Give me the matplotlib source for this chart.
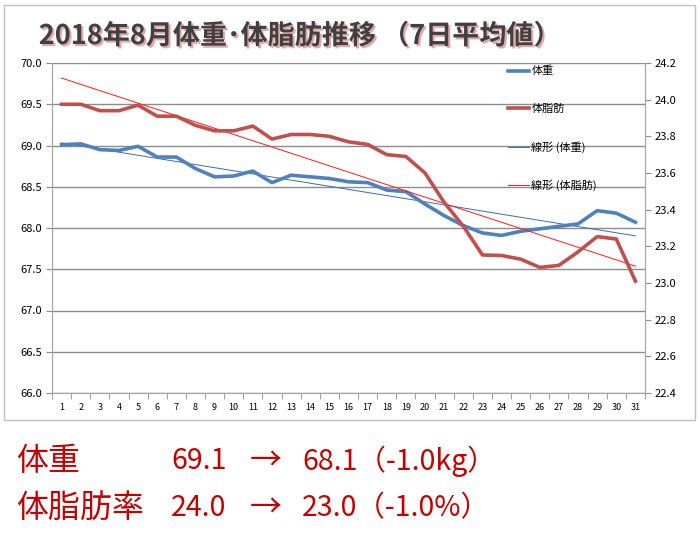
import numpy as np
import matplotlib
matplotlib.use("Agg")
import matplotlib.pyplot as plt
import matplotlib.patheffects as pe
from matplotlib.patches import Rectangle
from matplotlib.ticker import FixedLocator, NullFormatter

plt.rcParams['font.family'] = ['Noto Sans CJK JP', 'DejaVu Sans']

# 7-day averages, August 2018
days = list(range(1, 32))
weight = [69.01, 69.02, 68.95, 68.94, 68.99, 68.86, 68.86, 68.72, 68.62, 68.63,
          68.69, 68.55, 68.64, 68.62, 68.60, 68.56, 68.55, 68.46, 68.44, 68.29,
          68.15, 68.03, 67.94, 67.91, 67.96, 67.99, 68.02, 68.05, 68.21, 68.18,
          68.07]
fat = [23.975, 23.975, 23.94, 23.94, 23.97, 23.91, 23.91, 23.86, 23.83, 23.83,
       23.856, 23.785, 23.81, 23.81, 23.80, 23.77, 23.756, 23.70, 23.69, 23.60,
       23.44, 23.31, 23.153, 23.15, 23.13, 23.085, 23.096, 23.17, 23.253, 23.24,
       23.01]

# summary rows below the chart
summary_labels = ['体重', '体脂肪率']
summary_start = ['69.1', '24.0']
summary_end = ['68.1（-1.0kg）', '23.0（-1.0%）']

x = np.array(days)
w_fit = np.polyval(np.polyfit(x, weight, 1), x)
f_fit = np.polyval(np.polyfit(x, fat, 1), x)

blue = '#4F81BD'
red = '#C0504D'
grid_c = '#8c8c8c'

fig = plt.figure(figsize=(7, 5.33), dpi=100)
fig.patches.append(Rectangle((4 / 700, 1 - 420 / 533), 691 / 700, 415 / 533,
                             transform=fig.transFigure, fill=False,
                             edgecolor='#bfbfbf', linewidth=1))

ax = fig.add_axes([52 / 700, 1 - 393 / 533, 593 / 700, 330 / 533])
ax2 = ax.twinx()

ax.set_xlim(0.5, 31.5)
ax.set_ylim(66.0, 70.0)
ax.set_yticks(np.arange(66.0, 70.01, 0.5))
ax.set_yticklabels([f'{v:.1f}' for v in np.arange(66.0, 70.01, 0.5)])
ax.yaxis.grid(True, color=grid_c, linewidth=1)
ax.set_axisbelow(True)
ax.set_xticks(days)
ax.set_xticklabels([str(d) for d in days], fontsize=6.5)
ax.xaxis.set_minor_locator(FixedLocator(np.arange(0.5, 31.6, 1)))
ax.xaxis.set_minor_formatter(NullFormatter())
ax.tick_params(axis='x', which='major', length=0, pad=7)
ax.tick_params(axis='x', which='minor', length=4, color=grid_c)
ax.tick_params(axis='y', labelsize=8, length=4, color=grid_c, pad=3)

ax2.set_ylim(22.4, 24.2)
ax2.set_yticks(np.arange(22.4, 24.21, 0.2))
ax2.set_yticklabels([f'{v:.1f}' for v in np.arange(22.4, 24.21, 0.2)])
ax2.tick_params(axis='y', labelsize=8, length=4, color=grid_c, pad=3)

for a in (ax, ax2):
    a.spines['top'].set_visible(False)
    for s in ('left', 'right', 'bottom'):
        a.spines[s].set_color('#a6a6a6')

l1, = ax.plot(x, weight, color=blue, linewidth=2.6, label='体重', zorder=3)
l3, = ax.plot(x, w_fit, color='#3c6aa8', linewidth=0.7, label='線形 (体重)', zorder=2)
l2, = ax2.plot(x, fat, color=red, linewidth=2.6, label='体脂肪', zorder=3)
l4, = ax2.plot(x, f_fit, color='#ff1a1a', linewidth=0.7, label='線形 (体脂肪)', zorder=2)

ax2.legend(handles=[l1, l2, l3, l4], loc='upper left',
           bbox_to_anchor=(508 / 700, 1 - 66 / 533), bbox_transform=fig.transFigure,
           frameon=False, fontsize=8, labelspacing=2.45, handlelength=1.9,
           handletextpad=0.2, borderpad=0, borderaxespad=0)

fig.text(300 / 700, 1 - 36 / 533, '2018年8月体重･体脂肪推移 （7日平均値）',
         ha='center', va='center', fontsize=19.5, fontweight='bold', color='#404040',
         path_effects=[pe.withSimplePatchShadow(offset=(1.5, -1.5),
                                                shadow_rgbFace='#d07070', alpha=0.6)])

txt_c = '#C00000'
for i, yy in enumerate([461, 508]):
    yf = 1 - yy / 533
    fig.text(16 / 700, yf, summary_labels[i], ha='left', va='center', fontsize=23, color=txt_c)
    fig.text(171 / 700, yf, summary_start[i], ha='left', va='center', fontsize=20.5, color=txt_c)
    fig.text(266 / 700, yf, '→', ha='center', va='center', fontsize=23, color=txt_c)
    fig.text(302 / 700, yf, summary_end[i], ha='left', va='center', fontsize=20.5, color=txt_c)

fig.savefig('out.png', dpi=100)
